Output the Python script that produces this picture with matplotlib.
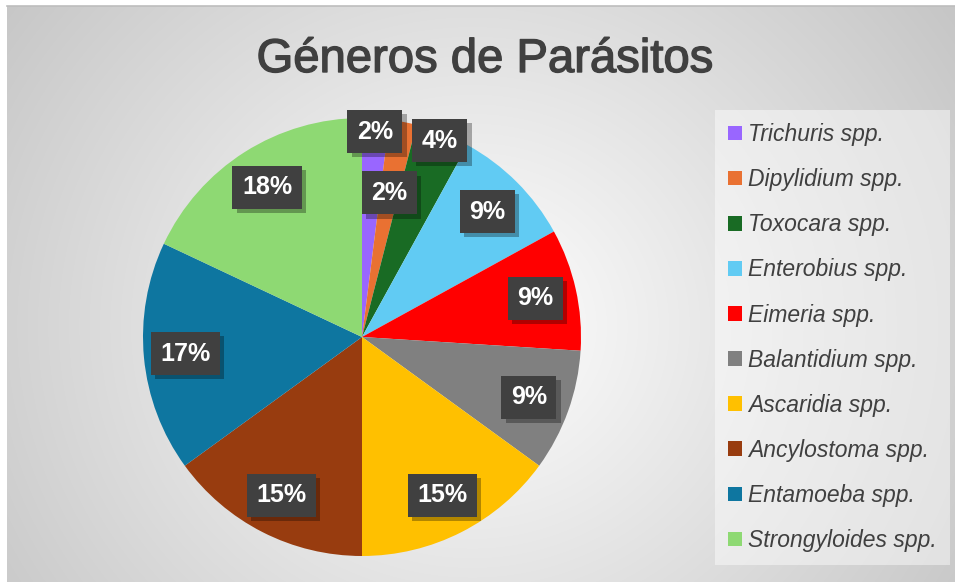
import numpy as np
import matplotlib
matplotlib.use("Agg")
import matplotlib.pyplot as plt
from matplotlib.patches import Patch
import matplotlib.patheffects as pe

# ---------------- data ----------------
title = "Géneros de Parásitos"
genera = ["Trichuris spp.", "Dipylidium spp.", "Toxocara spp.", "Enterobius spp.",
          "Eimeria spp.", "Balantidium spp.", "Ascaridia spp.", "Ancylostoma spp.",
          "Entamoeba spp.", "Strongyloides spp."]
percent = [2, 2, 4, 9, 9, 9, 15, 15, 17, 18]

# ---------------- styles ----------------
colors = ["#9966FF", "#E97132", "#196B24", "#61CBF3", "#FF0000",
          "#808080", "#FFC000", "#983C0F", "#0E76A0", "#8ED973"]
label_radius = [0.94, 0.67, 0.965, 0.81, 0.81, 0.81, 0.81, 0.81, 0.81, 0.81]
text_dark = "#404040"
FAM = ["Liberation Sans", "DejaVu Sans"]

W, H = 955, 582
fig = plt.figure(figsize=(W / 100, H / 100), dpi=100, facecolor="white")

# background with radial gradient
bg = fig.add_axes([7 / W, 0, (W - 7) / W, (H - 6) / H])
bg.set_xlim(0, W - 7)
bg.set_ylim(H - 6, 0)
xx, yy = np.meshgrid(np.arange(W - 7), np.arange(H - 6))
cx, cy = 465, 320
d = np.sqrt(((xx - cx) / 600.0) ** 2 + ((yy - cy) / 560.0) ** 2)
v = (255 - 58 * np.clip(d, 0, 1)) / 255.0
img = np.dstack([v, v, v])
bg.imshow(img, extent=(0, W - 7, H - 6, 0), aspect="auto", interpolation="bilinear")
for s in ["left", "right", "bottom"]:
    bg.spines[s].set_visible(False)
bg.spines["top"].set_color("#bdbdbd")
bg.spines["top"].set_linewidth(1.2)
bg.set_xticks([])
bg.set_yticks([])

# title
fig.text(485 / W, 1 - 72 / H, title, ha="center", va="baseline",
         fontsize=34, color=text_dark, family=FAM,
         path_effects=[pe.withStroke(linewidth=1.0, foreground=text_dark)])

# pie
pcx, pcy, R = 362, 337, 219
ax = fig.add_axes([(pcx - R) / W, (H - pcy - R) / H, 2 * R / W, 2 * R / H])
wedges, _ = ax.pie(percent, colors=colors, startangle=90, counterclock=False,
                   radius=1.0, wedgeprops=dict(linewidth=0))
ax.set_xlim(-1, 1)
ax.set_ylim(-1, 1)
ax.set_aspect("equal")
ax.axis("off")

for w, p, r in zip(wedges, percent, label_radius):
    ang = np.deg2rad((w.theta1 + w.theta2) / 2)
    t = ax.text(r * np.cos(ang), r * np.sin(ang), f"{p}%", ha="center", va="center",
                color="white", fontsize=18, fontweight="bold", family=FAM,
                bbox=dict(boxstyle="square,pad=0.38", facecolor="#404040",
                          edgecolor="none", linewidth=0),
                zorder=5)
    t.get_bbox_patch().set_path_effects([
        pe.SimplePatchShadow(offset=(3, -3), shadow_rgbFace="black", alpha=0.3),
        pe.Normal()])

# legend
handles = [Patch(facecolor=c, edgecolor="none") for c in colors]
leg = fig.legend(handles, genera, loc="upper left",
                 bbox_to_anchor=(715 / W, 1 - 110 / H), borderaxespad=0,
                 frameon=True, fancybox=False, framealpha=0.45,
                 prop=dict(family=FAM, style="italic", size=16.5),
                 labelcolor=text_dark, handlelength=0.61, handleheight=0.61,
                 handletextpad=0.28, labelspacing=0.965, borderpad=0.57)
leg.get_frame().set_facecolor("white")
leg.get_frame().set_edgecolor("none")

fig.savefig("out.png", dpi=100, facecolor="white")
